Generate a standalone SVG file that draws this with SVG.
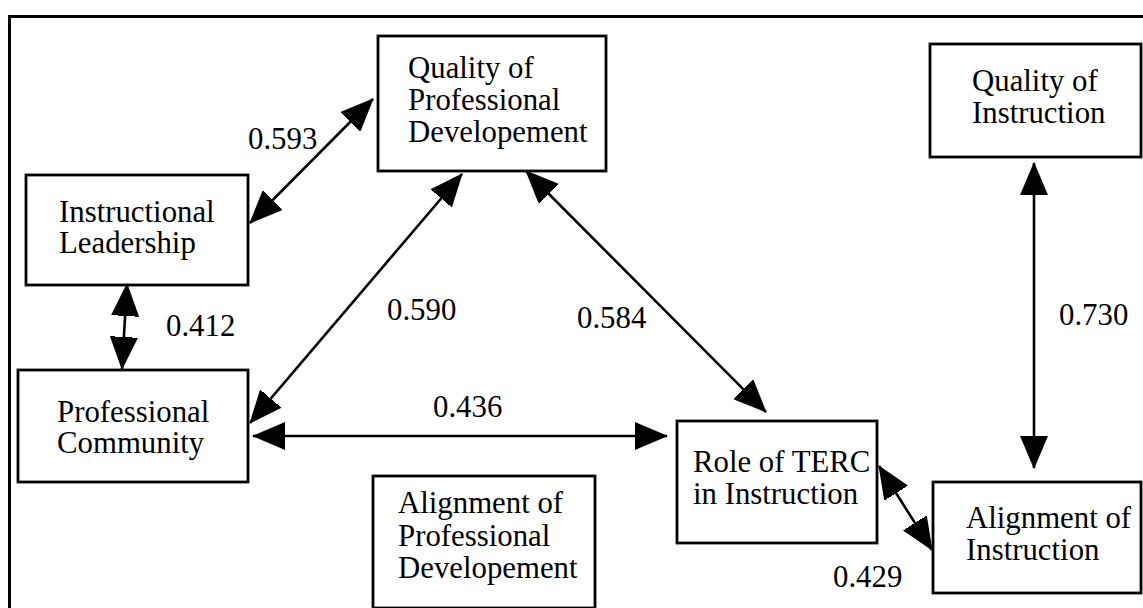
<svg xmlns="http://www.w3.org/2000/svg" width="1143" height="608" viewBox="0 0 1143 608">
<style>
.box{fill:#fff;stroke:#000;stroke-width:2.8}
text{font-family:'Liberation Serif','Times New Roman',serif;font-size:30.8px;fill:#000}
.c{stroke:#000;stroke-width:2.6;fill:none;marker-start:url(#ah);marker-end:url(#ah)}
</style>
<defs>
<marker id="ah" viewBox="0 0 33 28" refX="32" refY="14" markerWidth="33" markerHeight="28" markerUnits="userSpaceOnUse" orient="auto-start-reverse">
<path d="M0,0 L33,14 L0,28 Q-3,14 0,0 z" fill="#000"/>
</marker>
</defs>
<rect x="0" y="0" width="1143" height="608" fill="#fff"/>
<path d="M9.5,610 V16.5 H1145" fill="none" stroke="#000" stroke-width="3"/>

<g id="n-ql">
<rect class="box" x="26" y="175" width="222" height="110"/>
<text x="59" y="222">Instructional</text>
<text x="59" y="253">Leadership</text>
</g>
<g id="n-qpd">
<rect class="box" x="378" y="36" width="228" height="135"/>
<text x="408" y="78">Quality of</text>
<text x="408" y="110">Professional</text>
<text x="408" y="142">Developement</text>
</g>
<g id="n-qi">
<rect class="box" x="930" y="44" width="211" height="113"/>
<text x="972" y="91">Quality of</text>
<text x="972" y="123">Instruction</text>
</g>
<g id="n-pc">
<rect class="box" x="18" y="370" width="230" height="112"/>
<text x="57" y="422">Professional</text>
<text x="57" y="453">Community</text>
</g>
<g id="n-role">
<rect class="box" x="677" y="421" width="200" height="122"/>
<text x="693" y="472">Role of TERC</text>
<text x="693" y="504">in Instruction</text>
</g>
<g id="n-apd">
<rect class="box" x="373" y="476" width="222" height="132"/>
<text x="398" y="513">Alignment of</text>
<text x="398" y="546">Professional</text>
<text x="398" y="578">Developement</text>
</g>
<g id="n-ai">
<rect class="box" x="933" y="482" width="208" height="111"/>
<text x="966" y="528">Alignment of</text>
<text x="966" y="560">Instruction</text>
</g>

<g id="connectors">
<line class="c" x1="250" y1="223" x2="373" y2="99"/>
<line class="c" x1="127" y1="284" x2="122" y2="369"/>
<line class="c" x1="250" y1="423" x2="462" y2="174"/>
<line class="c" x1="526" y1="171" x2="766" y2="412"/>
<line class="c" x1="253" y1="436" x2="667" y2="436"/>
<line class="c" x1="879" y1="466" x2="932" y2="550"/>
<line class="c" x1="1034" y1="163" x2="1034" y2="468"/>
</g>

<g id="labels">
<text x="248" y="149">0.593</text>
<text x="166" y="336">0.412</text>
<text x="387" y="320">0.590</text>
<text x="577" y="328">0.584</text>
<text x="433" y="417">0.436</text>
<text x="1059" y="325">0.730</text>
<text x="833" y="587">0.429</text>
</g>
</svg>
